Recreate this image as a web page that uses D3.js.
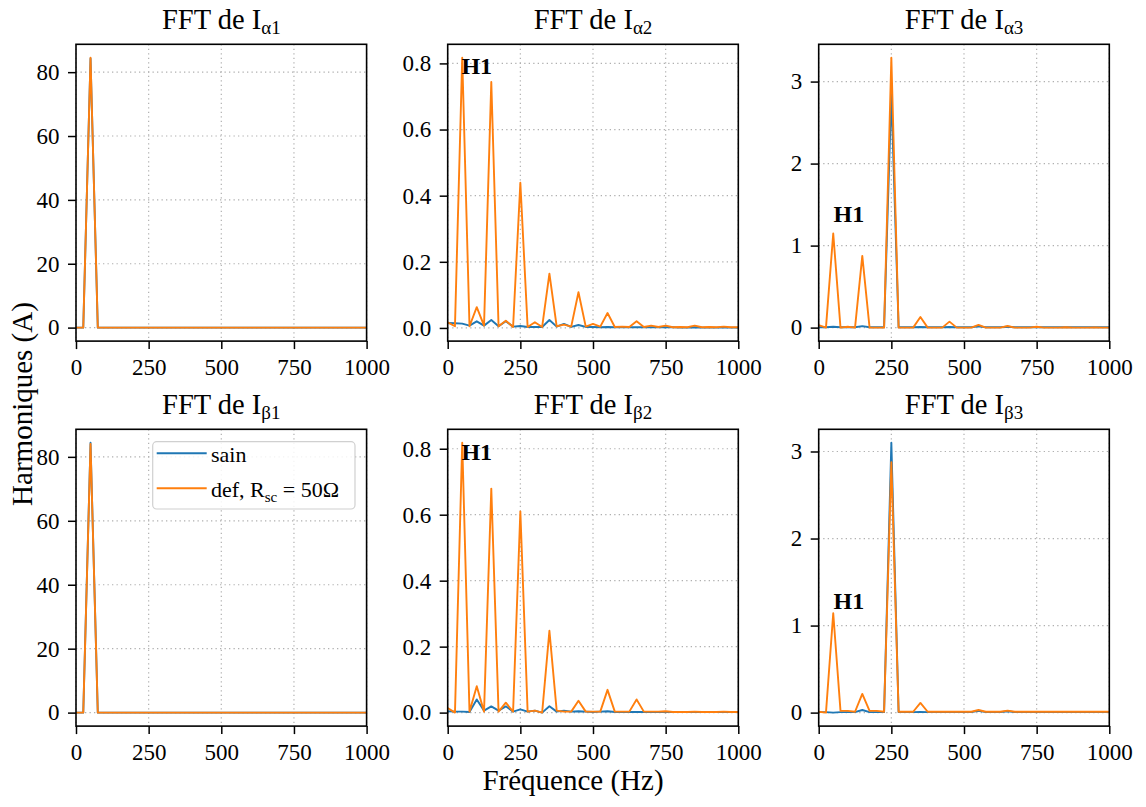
<!DOCTYPE html>
<html>
<head>
<meta charset="utf-8">
<script src="https://cdn.jsdelivr.net/npm/d3@7/dist/d3.min.js"></script>
<style>
  html, body { margin: 0; padding: 0; background: #fff; }
  svg text { font-family: "Liberation Serif", "Times New Roman", "DejaVu Serif", serif; fill: #000; }
</style>
</head>
<body>
<svg id="chart" width="1146" height="807"></svg>
<script>
// ---------------- DATA ----------------
const freqs = [0,25,50,75,100,125,150,175,200,225,250,275,300,325,350,375,400,425,450,475,500,
               525,550,575,600,625,650,675,700,725,750,775,800,825,850,875,900,925,950,975,1000];

const seriesNames = ["sain", "def, R_sc = 50Ω"];
const xTicks = [0, 250, 500, 750, 1000];

// I_alpha1
const alpha1Sain = [0,0,84.3,0,0,0,0,0,0,0,0,0,0,0,0,0,0,0,0,0,0,0,0,0,0,0,0,0,0,0,0,0,0,0,0,0,0,0,0,0,0];
const alpha1Def  = [0,0,84.5,0,0,0,0,0,0,0,0,0,0,0,0,0,0,0,0,0,0,0,0,0,0,0,0,0,0,0,0,0,0,0,0,0,0,0,0,0,0];
// I_alpha2
const alpha2Sain = [0.015,0.014,0.013,0.007,0.020,0.007,0.024,0.005,0.020,0.004,0.006,0.003,0.003,0.003,0.024,0.004,0.012,0.003,0.009,0.003,0.003,
                    0.002,0.003,0.002,0.002,0.002,0.002,0.002,0.002,0.002,0.002,0.002,0.001,0.001,0.002,0.001,0.001,0.001,0.001,0.001,0.001];
const alpha2Def  = [0.017,0.005,0.817,0.005,0.063,0.007,0.744,0.005,0.022,0.003,0.439,0.003,0.017,0.003,0.164,0.005,0.010,0.004,0.108,0.004,0.012,
                    0.004,0.045,0.003,0.004,0.003,0.020,0.003,0.007,0.003,0.007,0.002,0.003,0.002,0.007,0.002,0.003,0.002,0.004,0.002,0.002];
// I_alpha3
const alpha3Sain = [0.005,0.005,0.010,0.005,0.005,0.005,0.018,0.005,0.005,0.005,2.85,0.005,0.005,0.005,0.008,0.005,0.005,0.005,0.008,0.005,0.005,
                    0.005,0.015,0.005,0.005,0.005,0.010,0.005,0.005,0.005,0.005,0.005,0.005,0.005,0.005,0.005,0.005,0.005,0.005,0.005,0.005];
const alpha3Def  = [0.030,0.000,1.148,0.000,0.010,0.000,0.875,0.000,0.000,0.000,3.29,0.000,0.000,0.000,0.130,0.000,0.000,0.000,0.073,0.000,0.000,
                    0.000,0.033,0.000,0.000,0.000,0.020,0.000,0.000,0.000,0.010,0.000,0.000,0.000,0.005,0.000,0.000,0.000,0.003,0.000,0.000];
// I_beta1
const beta1Sain = [0,0,84.4,0,0,0,0,0,0,0,0,0,0,0,0,0,0,0,0,0,0,0,0,0,0,0,0,0,0,0,0,0,0,0,0,0,0,0,0,0,0];
const beta1Def  = [0,0,84.0,0,0,0,0,0,0,0,0,0,0,0,0,0,0,0,0,0,0,0,0,0,0,0,0,0,0,0,0,0,0,0,0,0,0,0,0,0,0];
// I_beta2
const beta2Sain = [0.004,0.003,0.003,0.002,0.040,0.006,0.019,0.006,0.019,0.003,0.010,0.003,0.006,0.000,0.019,0.003,0.006,0.003,0.004,0.003,0.002,
                   0.003,0.004,0.002,0.002,0.002,0.002,0.002,0.002,0.002,0.002,0.002,0.002,0.002,0.002,0.002,0.002,0.002,0.002,0.002,0.002];
const beta2Def  = [0.014,0.000,0.818,0.003,0.080,0.003,0.679,0.003,0.030,0.003,0.610,0.003,0.006,0.000,0.248,0.006,0.003,0.003,0.036,0.003,0.003,
                   0.003,0.069,0.003,0.003,0.003,0.040,0.003,0.003,0.003,0.004,0.002,0.002,0.002,0.003,0.002,0.002,0.002,0.003,0.002,0.002];
// I_beta3
const beta3Sain = [0.005,0.005,0.000,0.005,0.005,0.005,0.030,0.005,0.005,0.005,3.10,0.005,0.005,0.005,0.008,0.005,0.005,0.005,0.005,0.005,0.005,
                   0.005,0.020,0.005,0.005,0.005,0.015,0.005,0.005,0.005,0.005,0.005,0.005,0.005,0.005,0.005,0.005,0.005,0.005,0.005,0.005];
const beta3Def  = [0.010,0.000,1.142,0.020,0.020,0.010,0.215,0.020,0.020,0.010,2.877,0.010,0.010,0.010,0.111,0.010,0.010,0.010,0.010,0.010,0.010,
                   0.010,0.030,0.010,0.010,0.010,0.023,0.010,0.010,0.010,0.010,0.010,0.010,0.010,0.010,0.010,0.010,0.010,0.010,0.010,0.010];

const panelSymbols = ["α1", "α2", "α3", "β1", "β2", "β3"];
const panelSain = [alpha1Sain, alpha2Sain, alpha3Sain, beta1Sain, beta2Sain, beta3Sain];
const panelDef  = [alpha1Def, alpha2Def, alpha3Def, beta1Def, beta2Def, beta3Def];
const panelYTicks = [[0,20,40,60,80],[0,0.2,0.4,0.6,0.8],[0,1,2,3],[0,20,40,60,80],[0,0.2,0.4,0.6,0.8],[0,1,2,3]];
const panelYFormat = ["d", ".1f", "d", "d", ".1f", "d"];
// H1 annotation (frequency, amplitude) or null
const annotText = "H1";
const annotFreq = [null, 100, 104, null, 100, 104];
const annotAmp  = [null, 0.767, 1.282, null, 0.766, 1.195];

// ---------------- LAYOUT ----------------
const SERIF = '"Liberation Serif", "Times New Roman", serif';
const colors = ["#1f77b4", "#ff7f0e"];
const colX = [76, 447.7, 818.7];
const rowY = [44.3, 429.3];
const pw = 290.6, ph = 296.8;

const svg = d3.select("#chart");

panelSymbols.forEach((sym, i) => {
  const r = Math.floor(i / 3), c = i % 3;
  const x0 = colX[c], y0 = rowY[r];
  const g = svg.append("g");

  const all = panelSain[i].concat(panelDef[i]);
  const mn = d3.min(all), mx = d3.max(all);
  const pad = (mx - mn) * 0.05;
  const x = d3.scaleLinear().domain([0, 1000]).range([x0, x0 + pw]);
  const y = d3.scaleLinear().domain([mn - pad, mx + pad]).range([y0 + ph, y0]);

  // grid
  const gridG = g.append("g").attr("stroke", "#b0b0b0").attr("stroke-width", 1.2)
    .attr("stroke-dasharray", "1.3,3.2");
  xTicks.forEach(t => gridG.append("line").attr("x1", x(t)).attr("x2", x(t)).attr("y1", y0).attr("y2", y0 + ph));
  panelYTicks[i].forEach(t => gridG.append("line").attr("x1", x0).attr("x2", x0 + pw).attr("y1", y(t)).attr("y2", y(t)));

  // clip
  const cid = "clip" + i;
  svg.append("clipPath").attr("id", cid).append("rect")
    .attr("x", x0).attr("y", y0).attr("width", pw).attr("height", ph);

  const line = d3.line().x((d, k) => x(freqs[k])).y(d => y(d));
  [panelSain[i], panelDef[i]].forEach((vals, s) => {
    g.append("path").datum(vals)
      .attr("clip-path", `url(#${cid})`)
      .attr("fill", "none").attr("stroke", colors[s]).attr("stroke-width", 1.9)
      .attr("stroke-linejoin", "round")
      .attr("d", line);
  });

  // axes
  const xa = g.append("g").attr("transform", `translate(0,${y0 + ph})`)
    .call(d3.axisBottom(x).tickValues(xTicks).tickSize(8).tickPadding(10).tickFormat(d3.format("d")));
  const ya = g.append("g").attr("transform", `translate(${x0},0)`)
    .call(d3.axisLeft(y).tickValues(panelYTicks[i]).tickSize(8).tickPadding(8.5).tickFormat(d3.format(panelYFormat[i])));
  [xa, ya].forEach(a => {
    a.attr("font-family", null).attr("font-size", null);
    a.select(".domain").remove();
    a.selectAll(".tick line").attr("stroke", "#000").attr("stroke-width", 1.5);
    a.selectAll(".tick text").style("font-family", SERIF).style("font-size", "23px").attr("fill", "#000");
  });

  // spines
  g.append("rect").attr("x", x0).attr("y", y0).attr("width", pw).attr("height", ph)
    .attr("fill", "none").attr("stroke", "#000").attr("stroke-width", 1.6);

  // title
  const t = g.append("text").attr("x", x0 + pw / 2).attr("y", y0 - 15)
    .attr("text-anchor", "middle").style("font-size", "28.5px");
  t.append("tspan").text("FFT de I");
  t.append("tspan").style("font-size", "19px").attr("dy", 5).text(sym);

  // annotation
  if (annotFreq[i] !== null) {
    g.append("text").attr("x", x(annotFreq[i])).attr("y", y(annotAmp[i]))
      .attr("text-anchor", "middle").style("font-size", "24px").attr("font-weight", "bold")
      .text(annotText);
  }

  // legend in bottom-left panel
  if (i === 3) {
    const lg = g.append("g");
    lg.append("rect").attr("x", 152.7).attr("y", 441.7).attr("width", 202.3).attr("height", 67.3)
      .attr("rx", 4).attr("fill", "#fff").attr("fill-opacity", 0.85)
      .attr("stroke", "#d0d0d0").attr("stroke-width", 1.2);
    const rowsY = [453.3, 488.3];
    rowsY.forEach((ly, s) => {
      lg.append("line").attr("x1", 156.7).attr("x2", 206.7).attr("y1", ly).attr("y2", ly)
        .attr("stroke", colors[s]).attr("stroke-width", 1.9);
    });
    lg.append("text").attr("x", 211).attr("y", rowsY[0] + 8.5).style("font-size", "22px").text(seriesNames[0]);
    const lt = lg.append("text").attr("x", 211).attr("y", rowsY[1] + 8.5).style("font-size", "22px");
    lt.append("tspan").text("def, R");
    lt.append("tspan").style("font-size", "15px").attr("dy", 5).text("sc");
    lt.append("tspan").attr("dy", -5).text(" = 50Ω");
  }
});

// global labels
svg.append("text").attr("x", 573).attr("y", 790).attr("text-anchor", "middle")
  .style("font-size", "29px").text("Fréquence (Hz)");
svg.append("text").attr("transform", "translate(32,404) rotate(-90)").attr("text-anchor", "middle")
  .style("font-size", "29px").text("Harmoniques (A)");
</script>
</body>
</html>
